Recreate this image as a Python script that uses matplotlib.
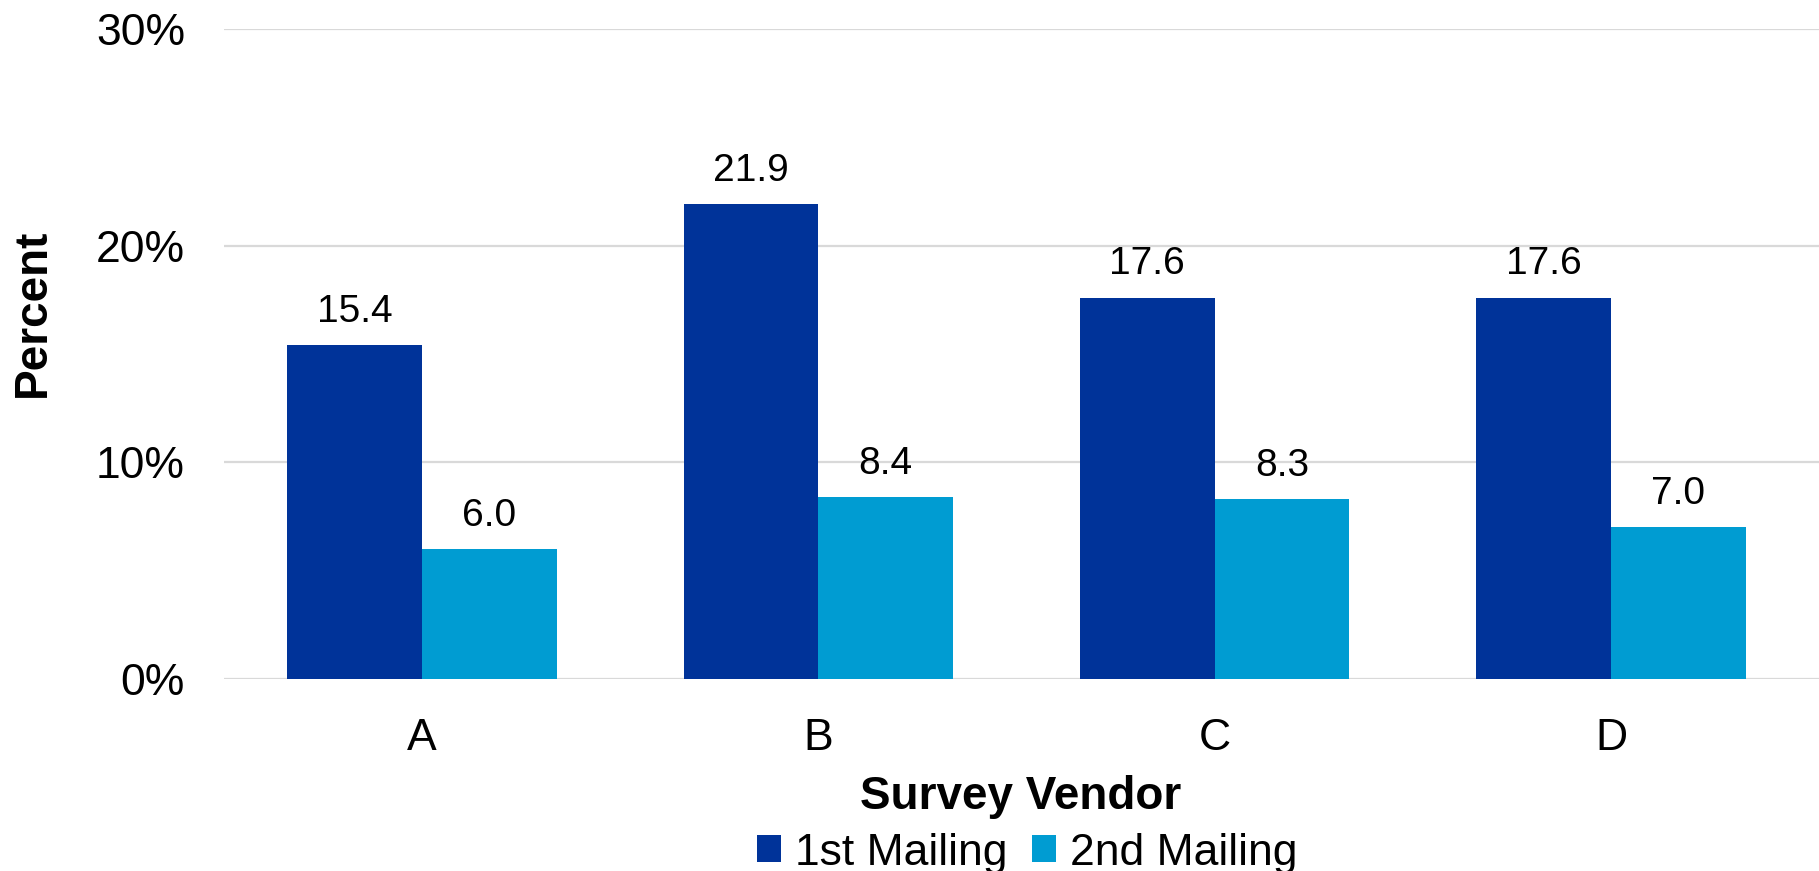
import matplotlib
matplotlib.use("Agg")
import matplotlib.pyplot as plt
from matplotlib.patches import Patch
import numpy as np

plt.rcParams['font.family'] = ['Liberation Sans', 'DejaVu Sans']

categories = ["A", "B", "C", "D"]
series_names = ["1st Mailing", "2nd Mailing"]
first_mailing = [15.4, 21.9, 17.6, 17.6]
second_mailing = [6.0, 8.4, 8.3, 7.0]
yticks = [0, 10, 20, 30]
ytick_labels = ["0%", "10%", "20%", "30%"]

colors = ["#003399", "#009CD2"]
grid_color = "#D9D9D9"

fig = plt.figure(figsize=(18.19, 8.71), dpi=100)
ax = fig.add_axes([224/1819, 1-679/871, 1-224/1819, (679-29)/871])

x = np.arange(len(categories))
w = 0.34
b1 = ax.bar(x - w/2, first_mailing, w, color=colors[0], zorder=3)
b2 = ax.bar(x + w/2, second_mailing, w, color=colors[1], zorder=3)
for bars in (b1, b2):
    ax.bar_label(bars, fmt="%.1f", padding=11, fontsize=28)

ax.set_xlim(-0.5, 3.525)
ax.set_ylim(0, 30)
ax.set_yticks(yticks)
ax.set_yticklabels(ytick_labels, fontsize=32)
ax.set_xticks(x)
ax.set_xticklabels(categories, fontsize=32)
ax.tick_params(axis='both', length=0)
ax.tick_params(axis='y', pad=28)
ax.tick_params(axis='x', pad=28)
ax.yaxis.grid(True, color=grid_color, linewidth=1.6, zorder=0)
ax.set_axisbelow(True)
for s in ax.spines.values():
    s.set_visible(False)

fig.text(33/1819, 1-313/871, "Percent", fontsize=33, fontweight='bold',
         rotation=90, ha='center', va='center')
fig.text(1021/1819, 1-797/871, "Survey Vendor", fontsize=33, fontweight='bold',
         ha='center', va='center')

handles = [Patch(facecolor=c, edgecolor='none') for c in colors]
fig.legend(handles, series_names, loc='center', bbox_to_anchor=(1027/1819, 1-853/871),
           ncol=2, frameon=False, fontsize=32, handlelength=0.55, handleheight=0.55,
           handletextpad=0.3, columnspacing=0.55, borderaxespad=0, borderpad=0)

fig.savefig("out.png", dpi=100)
